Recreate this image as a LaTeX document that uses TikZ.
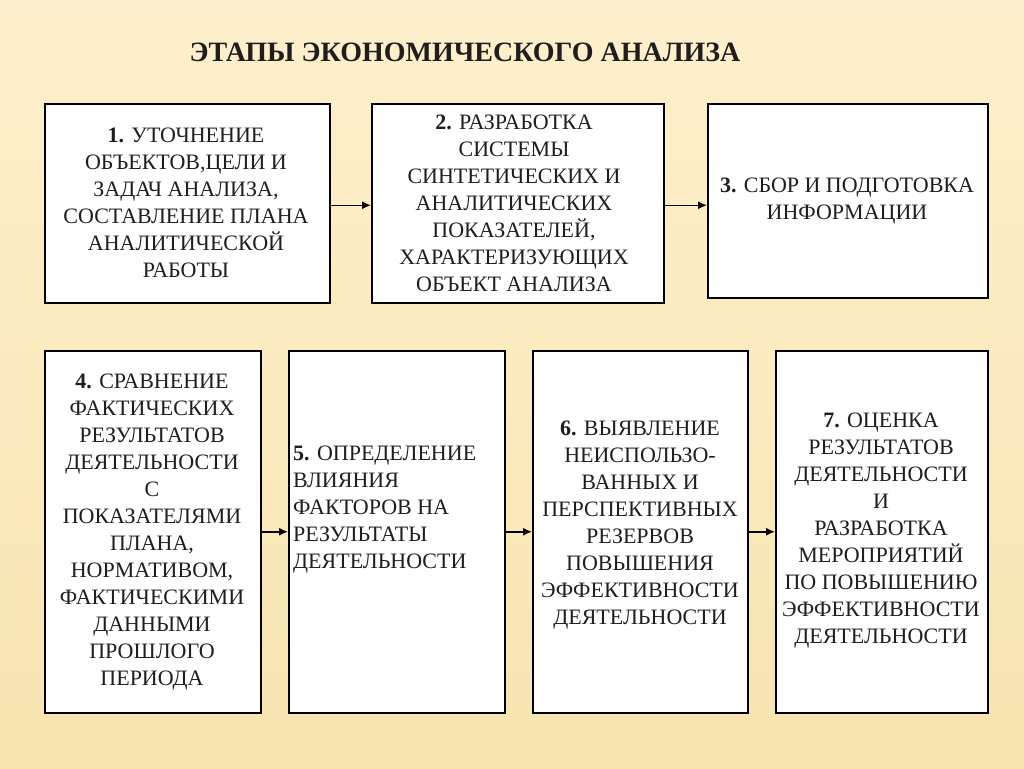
\documentclass[tikz,border=0pt]{standalone}
\usepackage{fontspec}
\setmainfont{Liberation Serif}
\usetikzlibrary{arrows.meta}
\definecolor{bgtop}{HTML}{FDF0CC}
\definecolor{bgbot}{HTML}{F8E4B0}
\definecolor{txt}{HTML}{1E1E1E}
\tikzset{
  stagebox/.style={draw=black, line width=1.5pt, fill=white, minimum width=#1, inner sep=0pt, anchor=north west},
  stagetext/.style={text=txt, font=\fontsize{22}{27}\selectfont, align=center, inner sep=0pt},
  flow/.style={line width=1.5pt, -{Latex[length=9pt,width=8pt]}},
}
\begin{document}
\begin{tikzpicture}[x=1pt,y=-1pt]
\useasboundingbox (0,0) rectangle (1024,768);
\shade[top color=bgtop, bottom color=bgbot] (0,0) rectangle (1024,768);
\node[font=\fontsize{28}{32}\selectfont\bfseries, text=txt] (title) at (465,52) {ЭТАПЫ ЭКОНОМИЧЕСКОГО АНАЛИЗА};
% top row
\node[stagebox=285pt, minimum height=199pt] (b1) at (44,103) {};
\node[stagebox=292pt, minimum height=199pt] (b2) at (371,103) {};
\node[stagebox=280pt, minimum height=194pt] (b3) at (707,103) {};
% bottom row
\node[stagebox=216pt, minimum height=362pt] (b4) at (44,350) {};
\node[stagebox=216pt, minimum height=362pt] (b5) at (288,350) {};
\node[stagebox=215pt, minimum height=362pt] (b6) at (532,350) {};
\node[stagebox=212pt, minimum height=362pt] (b7) at (775,350) {};
% texts
\node[stagetext] (t1) at (186,203) {\textbf{1.} УТОЧНЕНИЕ\\ОБЪЕКТОВ,ЦЕЛИ И\\ЗАДАЧ АНАЛИЗА,\\СОСТАВЛЕНИЕ ПЛАНА\\АНАЛИТИЧЕСКОЙ\\РАБОТЫ};
\node[stagetext] (t2) at (514,203) {\textbf{2.} РАЗРАБОТКА\\СИСТЕМЫ\\СИНТЕТИЧЕСКИХ И\\АНАЛИТИЧЕСКИХ\\ПОКАЗАТЕЛЕЙ,\\ХАРАКТЕРИЗУЮЩИХ\\ОБЪЕКТ АНАЛИЗА};
\node[stagetext] (t3) at (847,201) {\textbf{3.} СБОР И ПОДГОТОВКА\\ИНФОРМАЦИИ};
\node[stagetext] (t4) at (152,532) {\textbf{4.} СРАВНЕНИЕ\\ФАКТИЧЕСКИХ\\РЕЗУЛЬТАТОВ\\ДЕЯТЕЛЬНОСТИ\\С\\ПОКАЗАТЕЛЯМИ\\ПЛАНА,\\НОРМАТИВОМ,\\ФАКТИЧЕСКИМИ\\ДАННЫМИ\\ПРОШЛОГО\\ПЕРИОДА};
\node[stagetext, align=left, anchor=west] (t5) at (293,510) {\textbf{5.} ОПРЕДЕЛЕНИЕ\\ВЛИЯНИЯ\\ФАКТОРОВ НА\\РЕЗУЛЬТАТЫ\\ДЕЯТЕЛЬНОСТИ};
\node[stagetext] (t6) at (640,525) {\textbf{6.} ВЫЯВЛЕНИЕ\\НЕИСПОЛЬЗО-\\ВАННЫХ И\\ПЕРСПЕКТИВНЫХ\\РЕЗЕРВОВ\\ПОВЫШЕНИЯ\\ЭФФЕКТИВНОСТИ\\ДЕЯТЕЛЬНОСТИ};
\node[stagetext] (t7) at (881,531) {\textbf{7.} ОЦЕНКА\\РЕЗУЛЬТАТОВ\\ДЕЯТЕЛЬНОСТИ\\И\\РАЗРАБОТКА\\МЕРОПРИЯТИЙ\\ПО ПОВЫШЕНИЮ\\ЭФФЕКТИВНОСТИ\\ДЕЯТЕЛЬНОСТИ};
% arrows
\draw[flow] ([yshift=-2pt]b1.east) -- ([yshift=-2pt]b2.west);
\draw[flow] ([yshift=-2pt]b2.east) -- ([yshift=-2pt]b2.east -| b3.west);
\draw[flow] (b4.east) -- (b5.west);
\draw[flow] (b5.east) -- (b6.west);
\draw[flow] (b6.east) -- (b7.west);
\end{tikzpicture}
\end{document}
